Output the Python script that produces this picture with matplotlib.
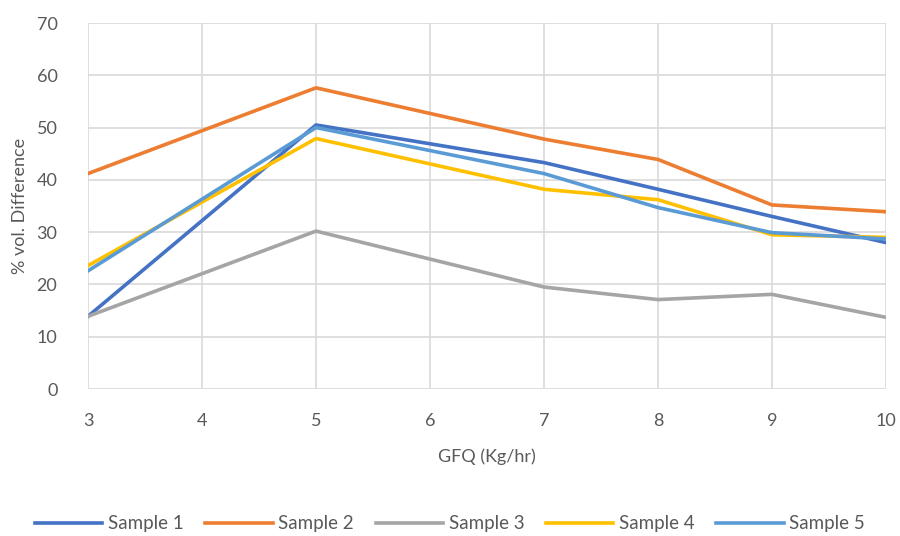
import matplotlib.pyplot as plt

# data
gfq = [3, 5, 7, 8, 9, 10]
sample1 = [13.9, 50.5, 43.3, 38.2, 33.0, 28.0]
sample2 = [41.2, 57.6, 47.8, 43.9, 35.2, 33.9]
sample3 = [13.9, 30.2, 19.5, 17.1, 18.1, 13.7]
sample4 = [23.6, 47.9, 38.2, 36.2, 29.5, 29.0]
sample5 = [22.6, 50.0, 41.2, 34.7, 29.9, 28.7]
names = ["Sample 1", "Sample 2", "Sample 3", "Sample 4", "Sample 5"]
colors = ["#4472C4", "#ED7D31", "#A5A5A5", "#FFC000", "#5B9BD5"]

plt.rcParams['font.family'] = ['Lato', 'DejaVu Sans']
txt = "#595959"

fig = plt.figure(figsize=(9, 5.36), dpi=100)
ax = fig.add_axes([88/900, 1 - 389/536, (886-88)/900, (389-23)/536])

for ys, name, c in zip([sample1, sample2, sample3, sample4, sample5], names, colors):
    ax.plot(gfq, ys, color=c, lw=2.6, label=name, solid_joinstyle='round')

ax.set_xlim(3, 10)
ax.set_ylim(0, 70)
ax.set_xticks(range(3, 11))
ax.set_yticks(range(0, 71, 10))
ax.grid(True, color="#d9d9d9", lw=1.2)
ax.set_axisbelow(True)
for s in ax.spines.values():
    s.set_visible(False)
ax.tick_params(length=0, labelsize=13, colors=txt)
ax.tick_params(axis='x', pad=17)
ax.tick_params(axis='y', pad=22)

ax.set_xlabel("GFQ (Kg/hr)", fontsize=13, color=txt, labelpad=14)
ax.set_ylabel("% vol. Difference", fontsize=13, color=txt, labelpad=6)

fig.legend(loc='center', bbox_to_anchor=(0.5, 1 - 524/536), ncol=5, frameon=False,
           fontsize=13.5, handlelength=3.6, columnspacing=1.15, handletextpad=0.3,
           labelcolor=txt)

fig.savefig("out.png", dpi=100)
